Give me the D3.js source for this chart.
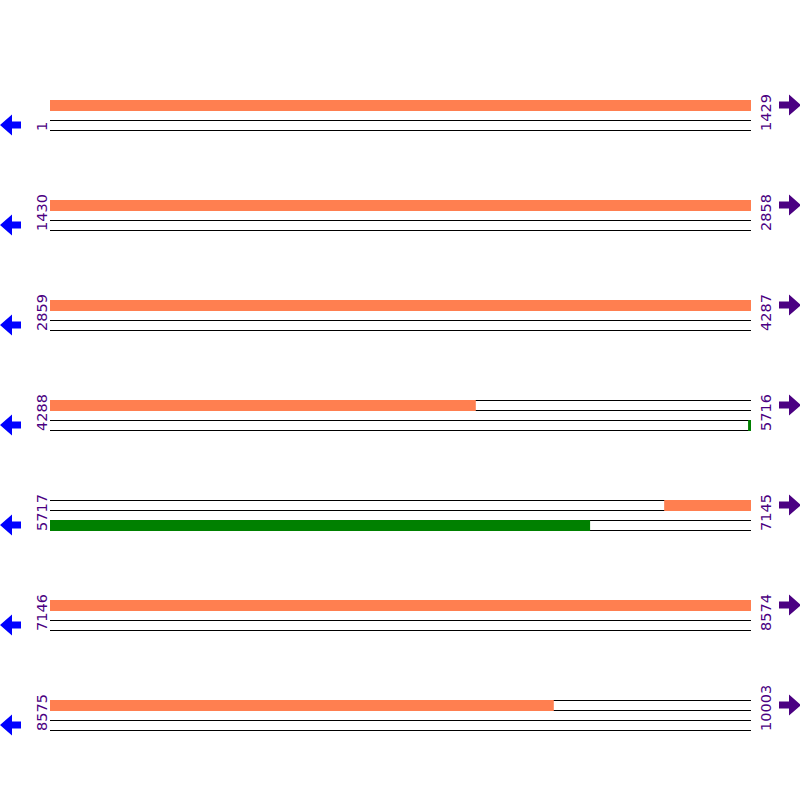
<!DOCTYPE html>
<html lang="en">
<head>
    <meta charset="utf-8" />
    <title>Sequence map</title>
    <style>
        body { margin: 0; background: #fff; }
        .pos-label { font: 14.5px "DejaVu Sans", sans-serif; fill: #4b0082; }
    </style>
</head>
<body>
<svg width="800" height="800"></svg>
<script src="https://d3js.org/d3.v7.js"></script>
<script>
    // row ranges (bp)
    const rowStarts = [1, 1430, 2859, 4288, 5717, 7146, 8575];
    const rowEnds = [1429, 2858, 4287, 5716, 7145, 8574, 10003];

    // features: forward strand (orange), reverse strand (green)
    const fwdStarts = [1, 6969];
    const fwdEnds = [5156, 9602];
    const revStarts = [5711];
    const revEnds = [6818];

    const svg = d3.select("svg");
    const margin = { left: 50, right: 49 };
    const width = +svg.attr("width");

    const y = d3.scaleBand()
        .domain(rowStarts.map((d, i) => i))
        .range([100, 800])
        .paddingInner(0)
        .align(0);

    const rows = rowStarts.map((s, i) => ({ i, start: s, end: rowEnds[i] }));
    const xFor = r => d3.scaleLinear()
        .domain([r.start, r.start + 1429])
        .range([margin.left, width - margin.right]);

    const feats = [];
    fwdStarts.forEach((s, k) => feats.push({ strand: 0, start: s, end: fwdEnds[k], color: "#ff7f50" }));
    revStarts.forEach((s, k) => feats.push({ strand: 1, start: s, end: revEnds[k], color: "green" }));

    const trackY = (r, strand) => y(r.i) + strand * 20;

    const g = svg.selectAll("g.row")
        .data(rows)
        .join("g")
        .attr("class", "row");

    g.each(function (r) {
        const x = xFor(r);
        const row = d3.select(this);

        // track outlines (top and bottom lines only)
        [0, 1].forEach(strand => {
            const ty = trackY(r, strand);
            [ty + 0.5, ty + 10.5].forEach(ly => {
                row.append("line")
                    .attr("x1", x(r.start)).attr("x2", x(r.start + 1429))
                    .attr("y1", ly).attr("y2", ly)
                    .attr("stroke", "black").attr("stroke-width", 1);
            });
        });

        // features clipped to this row
        feats.forEach(f => {
            const a = Math.max(f.start, r.start);
            const b = Math.min(f.end, r.end + 1);
            if (b <= a) return;
            row.append("rect")
                .attr("x", x(a))
                .attr("width", x(b) - x(a))
                .attr("y", trackY(r, f.strand))
                .attr("height", 11)
                .attr("fill", f.color);
        });

        // position labels
        const ly = y(r.i) + 31;
        row.append("text")
            .attr("class", "pos-label")
            .attr("transform", `translate(47,${ly}) rotate(-90)`)
            .text(r.start);
        row.append("text")
            .attr("class", "pos-label")
            .attr("transform", `translate(771,${ly}) rotate(-90)`)
            .text(r.end);

        // strand arrows
        const ay = y(r.i) + 25;
        row.append("path")
            .attr("d", `M0,${ay} L12,${ay - 10.5} L12,${ay - 3.5} L21,${ay - 3.5} L21,${ay + 3.5} L12,${ay + 3.5} L12,${ay + 10.5} Z`)
            .attr("fill", "blue");
        const by = y(r.i) + 5;
        row.append("path")
            .attr("d", `M801,${by} L789,${by - 10.5} L789,${by - 3.5} L779,${by - 3.5} L779,${by + 3.5} L789,${by + 3.5} L789,${by + 10.5} Z`)
            .attr("fill", "#4b0082");
    });
</script>
</body>
</html>
